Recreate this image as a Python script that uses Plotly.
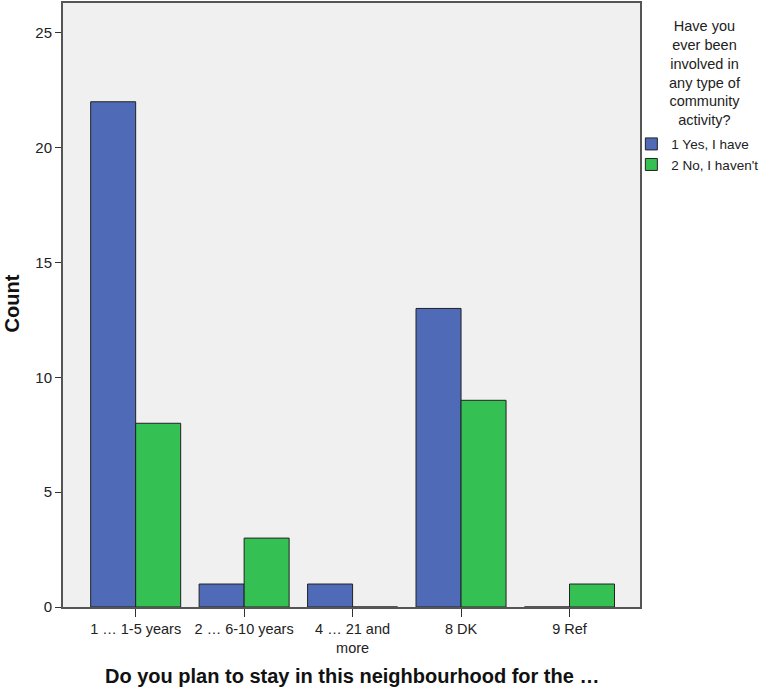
import plotly.graph_objects as go

categories = ["1 … 1-5 years", "2 … 6-10 years", "4 … 21 and<br>more", "8 DK", "9 Ref"]
yes_values = [22, 1, 1, 13, 0]
no_values = [8, 3, 0, 9, 1]
series_names = ["1 Yes, I have", "2 No, I haven't"]
y_ticks = [0, 5, 10, 15, 20, 25]
x_title = "<b>Do you plan to stay in this neighbourhood for the …</b>"
y_title = "<b>Count</b>"
legend_title = "Have you<br>ever been<br>involved in<br>any type of<br>community<br>activity?"

fig = go.Figure()
fig.add_trace(go.Bar(x=categories, y=yes_values, name=series_names[0],
                     marker=dict(color="#4F6BB8", line=dict(color="#222222", width=1))))
fig.add_trace(go.Bar(x=categories, y=no_values, name=series_names[1],
                     marker=dict(color="#34C053", line=dict(color="#222222", width=1))))

fig.update_layout(
    width=763, height=687,
    margin=dict(l=63, r=123, t=3, b=80, autoexpand=False),
    paper_bgcolor="white", plot_bgcolor="#F0F0F0",
    barmode="group", bargap=0.17, bargroupgap=0,
    font=dict(family="Liberation Sans, Arial", size=12, color="#222222"),
    legend=dict(
        x=0.985, xanchor="left", y=0.792, yanchor="top",
        bgcolor="rgba(0,0,0,0)",
        font=dict(size=13.5), itemwidth=30,
    ),
    xaxis=dict(
        automargin=False,
        range=[-0.67, 4.65], showline=True, linecolor="#555555", linewidth=2, mirror=True,
        ticks="outside", ticklen=8, tickcolor="#333333", tickfont=dict(size=14.5),
        showgrid=False,
    ),
    yaxis=dict(
        automargin=False,
        range=[0, 26.3], tickvals=y_ticks, showline=True, linecolor="#555555", linewidth=2,
        mirror=True, ticks="outside", ticklen=6, tickcolor="#333333",
        tickfont=dict(size=15), showgrid=False, zeroline=False,
    ),
    annotations=[
        dict(text=x_title, xref="paper", yref="paper", x=0.5, y=-0.114, xanchor="center",
             yanchor="middle", showarrow=False, font=dict(size=20, color="#111111")),
        dict(text=y_title, xref="paper", yref="paper", x=-0.088, y=0.503, xanchor="center",
             yanchor="middle", showarrow=False, textangle=-90,
             font=dict(size=20, color="#111111")),
        dict(text=legend_title, xref="paper", yref="paper", x=1.113, y=0.978, xanchor="center",
             yanchor="top", align="center", showarrow=False,
             font=dict(size=14.5, color="#222222")),
    ],
)

fig.write_html("out.html", config={"displayModeBar": False},
               post_script="document.body.style.margin='0';")
